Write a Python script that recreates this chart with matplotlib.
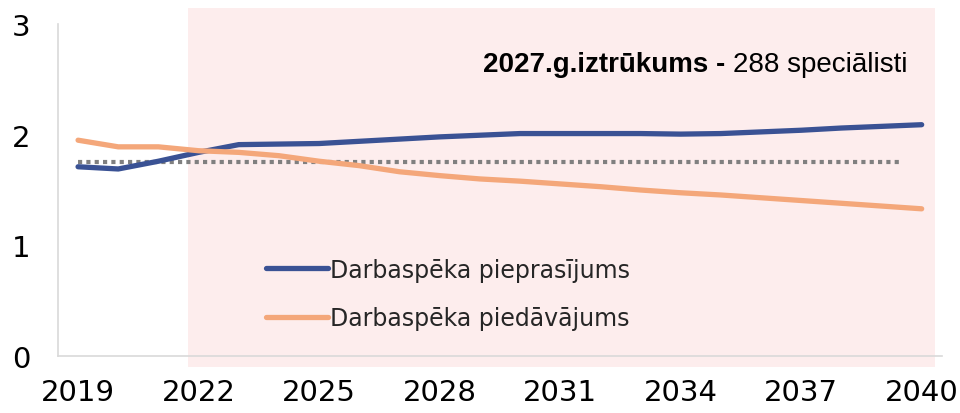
import matplotlib
matplotlib.use('Agg')
import matplotlib.pyplot as plt

# gadi un rādītāji (tūkst. speciālistu)
years = list(range(2019, 2041))
demand = [1.71, 1.69, 1.76, 1.84, 1.91, 1.915, 1.92, 1.94, 1.96, 1.98, 1.995,
          2.01, 2.01, 2.01, 2.01, 2.005, 2.01, 2.025, 2.04, 2.06, 2.075, 2.09]
supply = [1.95, 1.89, 1.89, 1.855, 1.84, 1.81, 1.76, 1.72, 1.665, 1.63, 1.60,
          1.58, 1.555, 1.53, 1.50, 1.475, 1.455, 1.43, 1.405, 1.38, 1.355, 1.33]
avg_level = 1.75
avg_span = (2019, 2039.5)
forecast_span = (2021.73, 2040.32)
x_ticks = [2019, 2022, 2025, 2028, 2031, 2034, 2037, 2040]
y_ticks = [0, 1, 2, 3]
labels = ['Darbaspēka pieprasījums', 'Darbaspēka piedāvājums']

fig = plt.figure(figsize=(9.6, 4.14), dpi=100)
ax = fig.add_axes([0.0604, 0.1377, 0.9206, 0.8019])

# prognozes periods (rozā fons)
ax.axvspan(forecast_span[0], forecast_span[1], ymin=-0.033, ymax=1.048,
           color='#FDEDED', zorder=0, clip_on=False, lw=0)

ax.hlines(avg_level, avg_span[0], avg_span[1], colors='#808080', lw=3,
          linestyles=(0, (1, 1)), zorder=2)
ax.plot(years, demand, color='#3A5294', lw=3.8, solid_capstyle='round',
        label=labels[0], zorder=3)
ax.plot(years, supply, color='#F4A77A', lw=3.8, solid_capstyle='round',
        label=labels[1], zorder=3)

ax.set_xlim(2018.5, 2040.5)
ax.set_ylim(0, 3)
ax.set_xticks(x_ticks)
ax.set_yticks(y_ticks)
ax.tick_params(length=0, labelsize=21, colors='black')
ax.tick_params(axis='y', pad=20)
ax.tick_params(axis='x', pad=16)

for s in ['top', 'right']:
    ax.spines[s].set_visible(False)
for s in ['left', 'bottom']:
    ax.spines[s].set_color('#D9D9D9')
    ax.spines[s].set_linewidth(1.2)
ax.patch.set_alpha(0)

t1 = ax.text(2029.07, 2.64, '2027.g.iztrūkums - ', fontsize=20, fontweight='bold',
             family='Liberation Sans', va='center', ha='left')
ax.annotate('288 speciālisti', xy=(1, 0), xycoords=t1, fontsize=20,
            family='Liberation Sans', va='bottom', ha='left')

leg = ax.legend(loc='upper left', bbox_to_anchor=(0.225, 0.325), frameon=False,
                fontsize=17, handlelength=2.6, handletextpad=0.1,
                labelspacing=1.05, borderaxespad=0)
for t in leg.get_texts():
    t.set_color('#262626')

fig.savefig('out.png', dpi=100)
